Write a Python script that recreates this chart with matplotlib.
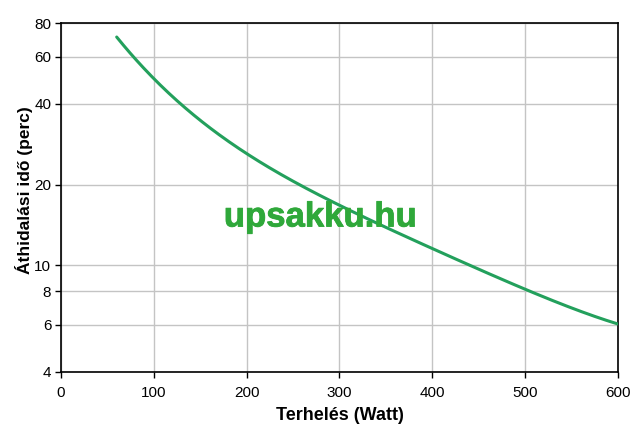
import numpy as np
import matplotlib.pyplot as plt
import matplotlib.patheffects as pe
from matplotlib.ticker import FixedLocator, NullLocator, FixedFormatter
from numpy.polynomial import polynomial as P

plt.rcParams['font.family'] = ['Liberation Sans', 'DejaVu Sans']

# terheles (W) es athidalasi ido (perc), a kepről leolvasva
load_w = [60, 100, 150, 200, 250, 300, 350, 400, 450, 500, 550, 600]
runtime_min = [71.5, 49.0, 34.8, 25.8, 21.0, 16.8, 13.8, 11.4, 9.6, 8.2, 7.0, 6.0]
y_ticks = [4, 6, 8, 10, 20, 40, 60, 80]
x_ticks = [0, 100, 200, 300, 400, 500, 600]

fig = plt.figure(figsize=(6.4, 4.36), dpi=100)
ax = fig.add_axes([0.0953, 0.1468, 0.8703, 0.8004])

# simitott gorbe a pontokon at (log terben)
xs = np.linspace(load_w[0], load_w[-1], 300)
coef = P.polyfit(load_w, np.log(runtime_min), 4)
ys = np.exp(P.polyval(xs, coef))
ax.plot(xs, ys, color='#23a05c', lw=2.2, solid_capstyle='round', zorder=3)

ax.set_yscale('log')
ax.set_xlim(0, 600)
ax.set_ylim(4, 80)
ax.yaxis.set_major_locator(FixedLocator(y_ticks))
ax.yaxis.set_major_formatter(FixedFormatter([str(t) for t in y_ticks]))
ax.yaxis.set_minor_locator(NullLocator())
ax.set_xticks(x_ticks)

ax.grid(True, color='#c4c4c4', lw=1)
ax.set_axisbelow(True)
for s in ax.spines.values():
    s.set_color('black')
    s.set_linewidth(1.2)
ax.tick_params(direction='out', length=4, width=1, labelsize=11, colors='black')
ax.tick_params(axis='x', pad=6)
ax.tick_params(axis='y', pad=3)

ax.set_xlabel('Terhelés (Watt)', fontsize=13, fontweight='bold', labelpad=5)
ax.set_ylabel('Áthidalási idő (perc)', fontsize=12.5, fontweight='bold')
ax.yaxis.set_label_coords(-0.051, 0.52)

fig.text(320 / 640, 1 - 217 / 436, 'upsakku.hu', ha='center', va='center',
         fontsize=25, fontweight='bold', color='#2fa83a', zorder=4,
         path_effects=[pe.withStroke(linewidth=0.6, foreground='#2fa83a')])

fig.savefig('out.png', dpi=100)
